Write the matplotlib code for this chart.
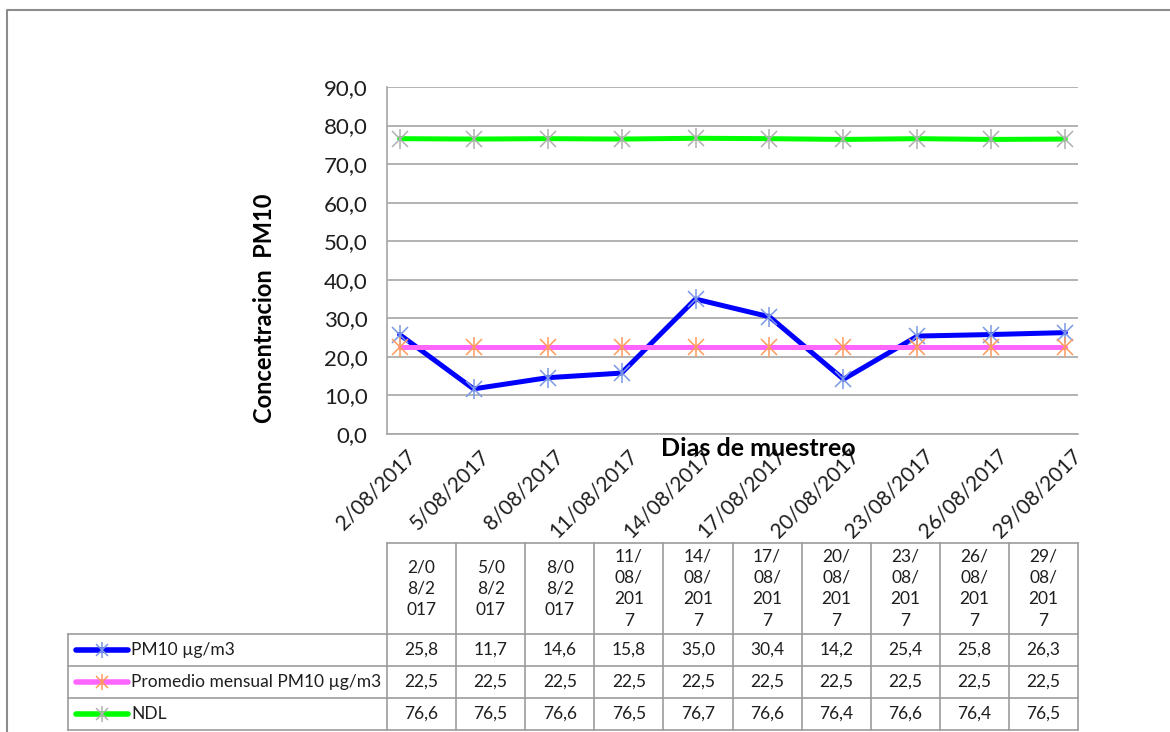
import matplotlib.pyplot as plt
from matplotlib import transforms

plt.rcParams['font.family'] = ['Lato', 'DejaVu Sans']

# datos del muestreo
fechas = ['2/08/2017', '5/08/2017', '8/08/2017', '11/08/2017', '14/08/2017',
          '17/08/2017', '20/08/2017', '23/08/2017', '26/08/2017', '29/08/2017']
pm10 = [25.8, 11.7, 14.6, 15.8, 35.0, 30.4, 14.2, 25.4, 25.8, 26.3]
promedio = [22.5, 22.5, 22.5, 22.5, 22.5, 22.5, 22.5, 22.5, 22.5, 22.5]
ndl = [76.6, 76.5, 76.6, 76.5, 76.7, 76.6, 76.4, 76.6, 76.4, 76.5]

series = [
    ('PM10 µg/m3', pm10, '#0000ff', '#7b98e6'),
    ('Promedio mensual PM10 µg/m3', promedio, '#ff66ff', '#ff9a5c'),
    ('NDL', ndl, '#00ff00', '#b0b0b0'),
]

W, H = 1170, 732
fig = plt.figure(figsize=(W / 100, H / 100), dpi=100)

# capa para tabla y borde (coordenadas en pixeles)
ov = fig.add_axes([0, 0, 1, 1])
ov.set_xlim(0, W)
ov.set_ylim(H, 0)
ov.axis('off')

grey = '#a6a6a6'
txt = '#1e1e1e'
ov.plot([6.5, 6.5, W], [H, 9.5, 9.5], color='#8c8c8c', lw=1.5)

ax = fig.add_axes([387 / W, 1 - 434 / H, (1078 - 387) / W, (434 - 87) / H])
x = list(range(len(fechas)))


def draw_marker(axis, xs, ys, mcolor, ms):
    axis.plot(xs, ys, ls='none', marker='x', ms=ms, mew=1.1, color=mcolor, zorder=4)
    axis.plot(xs, ys, ls='none', marker='|', ms=ms * 1.25, mew=1.1, color=mcolor, zorder=4)


for name, vals, lc, mc in series:
    ax.plot(x, vals, color=lc, lw=3.6, solid_capstyle='round', zorder=3)
    draw_marker(ax, x, vals, mc, 11)

ax.set_ylim(0, 90)
ax.set_xlim(-0.17, 9.17)
ax.set_yticks(range(0, 91, 10))
ax.set_yticklabels([f'{v:.1f}'.replace('.', ',') for v in range(0, 91, 10)], fontsize=16, color=txt)
ax.yaxis.grid(True, color=grey, lw=1.2)
ax.set_axisbelow(True)
ax.tick_params(axis='y', length=0, pad=14)
for s in ['top', 'right']:
    ax.spines[s].set_visible(False)
for s in ['left', 'bottom']:
    ax.spines[s].set_color(grey)
    ax.spines[s].set_linewidth(1.2)

# etiquetas de fecha giradas
ax.set_xticks([])
base = transforms.blended_transform_factory(ax.transData, ax.transAxes)
off = transforms.ScaledTranslation(0.06, -0.12, fig.dpi_scale_trans)
for xi, f in zip(x, fechas):
    ax.text(xi, 0, f, transform=base + off, rotation=45, ha='right', va='top',
            rotation_mode='anchor', fontsize=15, color=txt, clip_on=False)

fig.text(758 / W, 1 - 449 / H, 'Dias de muestreo', ha='center', va='center',
         fontsize=18, fontweight='bold', zorder=6)
fig.text(264 / W, 1 - 308 / H, 'Concentracion  PM10', rotation=90, ha='center', va='center',
         fontsize=17, fontweight='bold')

# tabla de datos
col0, col1 = 68, 387
cw = (1078 - 387) / len(fechas)
rows_y = [543, 634, 666, 698, 730]
tcol = '#9c9c9c'
ov.plot([col1, 1078], [543, 543], color=tcol, lw=1.2)
for yy in rows_y[1:]:
    ov.plot([col0, 1078], [yy, yy], color=tcol, lw=1.2)
ov.plot([col0, col0], [634, 730], color=tcol, lw=1.2)
for i in range(len(fechas) + 1):
    ov.plot([col1 + i * cw] * 2, [543, 730], color=tcol, lw=1.2)

for i, f in enumerate(fechas):
    cx = col1 + (i + 0.5) * cw
    wrapped = '\n'.join(f[k:k + 3] for k in range(0, len(f), 3))
    ov.text(cx, 588.5, wrapped, ha='center', va='center', fontsize=12.5, linespacing=1.42,
            color=txt)

for r, (name, vals, lc, mc) in enumerate(series):
    cy = (rows_y[r + 1] + rows_y[r + 2]) / 2
    ov.plot([76, 128], [cy, cy], color=lc, lw=4, solid_capstyle='round')
    draw_marker(ov, [102], [cy], mc, 9)
    ov.text(131, cy, name, ha='left', va='center', fontsize=12.5, color=txt)
    for i, v in enumerate(vals):
        ov.text(col1 + (i + 0.5) * cw, cy, f'{v:.1f}'.replace('.', ','), ha='center', va='center',
                fontsize=12.5, color=txt)

fig.savefig('out.png', dpi=100)
